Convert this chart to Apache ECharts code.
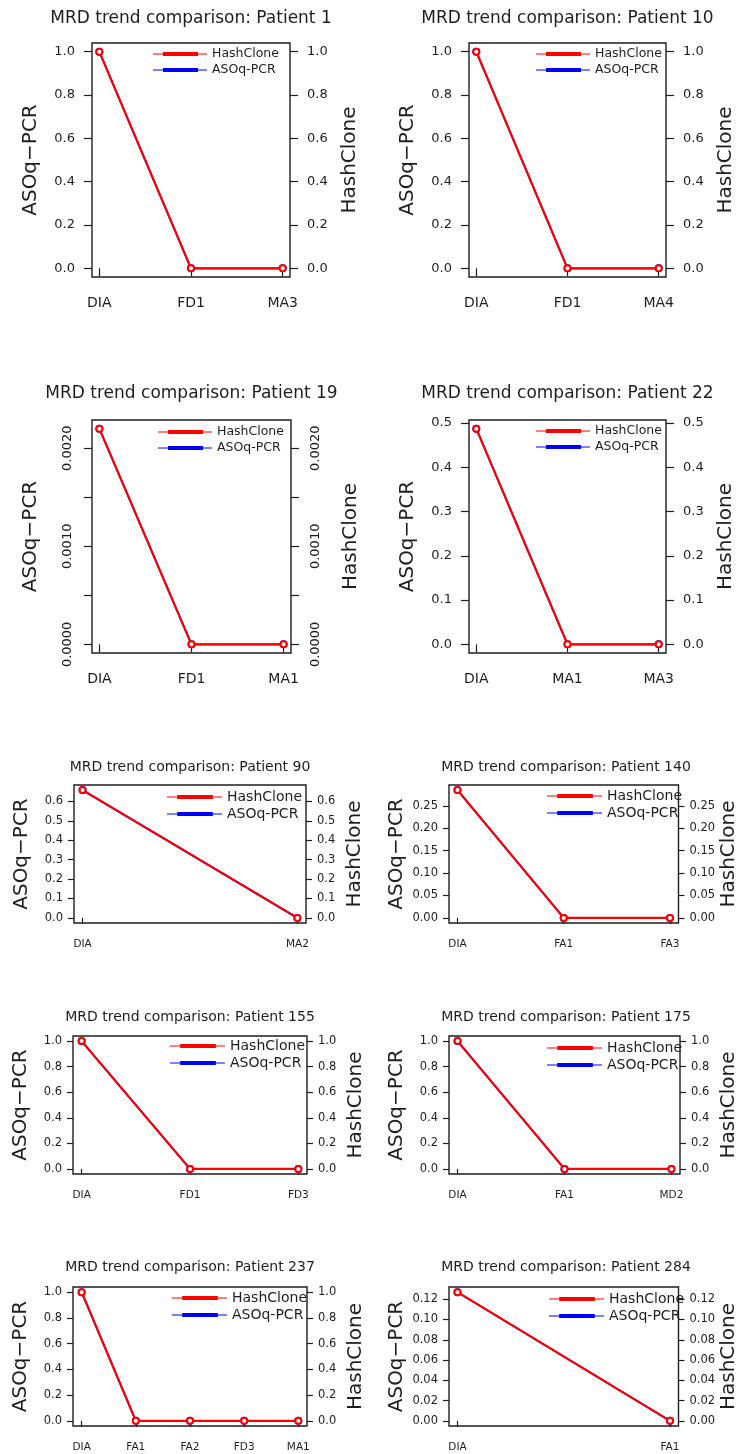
<!DOCTYPE html>
<html><head><meta charset="utf-8">
<script src="https://cdn.jsdelivr.net/npm/echarts@6/dist/echarts.min.js"></script>
<style>html,body{margin:0;padding:0;background:#fff}#c{width:740px;height:1454px}</style>
</head><body><div id="c"></div>
<script>
// ---------------- DATA ----------------
const patientIds = ['1', '10', '19', '22', '90', '140', '155', '175', '237', '284'];

const catP1 = ['DIA', 'FD1', 'MA3'];
const hashP1 = [1.0, 0, 0];
const asoP1 = [1.0, 0, 0];
const ticksP1 = [0, 0.2, 0.4, 0.6, 0.8, 1.0];

const catP10 = ['DIA', 'FD1', 'MA4'];
const hashP10 = [1.0, 0, 0];
const asoP10 = [1.0, 0, 0];
const ticksP10 = [0, 0.2, 0.4, 0.6, 0.8, 1.0];

const catP19 = ['DIA', 'FD1', 'MA1'];
const hashP19 = [0.0022, 0, 0];
const asoP19 = [0.0022, 0, 0];
const ticksP19 = [0, 0.0005, 0.0010, 0.0015, 0.0020];
const labelsP19 = [0, 0.0010, 0.0020];

const catP22 = ['DIA', 'MA1', 'MA3'];
const hashP22 = [0.487, 0, 0];
const asoP22 = [0.487, 0, 0];
const ticksP22 = [0, 0.1, 0.2, 0.3, 0.4, 0.5];

const catP90 = ['DIA', 'MA2'];
const hashP90 = [0.658, 0];
const asoP90 = [0.658, 0];
const ticksP90 = [0, 0.1, 0.2, 0.3, 0.4, 0.5, 0.6];

const catP140 = ['DIA', 'FA1', 'FA3'];
const hashP140 = [0.285, 0, 0];
const asoP140 = [0.285, 0, 0];
const ticksP140 = [0, 0.05, 0.10, 0.15, 0.20, 0.25];

const catP155 = ['DIA', 'FD1', 'FD3'];
const hashP155 = [1.0, 0, 0];
const asoP155 = [1.0, 0, 0];
const ticksP155 = [0, 0.2, 0.4, 0.6, 0.8, 1.0];

const catP175 = ['DIA', 'FA1', 'MD2'];
const hashP175 = [1.0, 0, 0];
const asoP175 = [1.0, 0, 0];
const ticksP175 = [0, 0.2, 0.4, 0.6, 0.8, 1.0];

const catP237 = ['DIA', 'FA1', 'FA2', 'FD3', 'MA1'];
const hashP237 = [1.0, 0, 0, 0, 0];
const asoP237 = [1.0, 0, 0, 0, 0];
const ticksP237 = [0, 0.2, 0.4, 0.6, 0.8, 1.0];

const catP284 = ['DIA', 'FA1'];
const hashP284 = [0.127, 0];
const asoP284 = [0.127, 0];
const ticksP284 = [0, 0.02, 0.04, 0.06, 0.08, 0.10, 0.12];

const seriesNames = ['HashClone', 'ASOq-PCR'];
const leftAxisTitle = 'ASOq\u2212PCR';
const rightAxisTitle = 'HashClone';
const titlePrefix = 'MRD trend comparison: Patient ';

// ---------------- LAYOUT ----------------
const FONT = '"DejaVu Sans", sans-serif';
const INK = '#1e1e1e';
const RED = '#ff0000';
const BLUE = '#0000ff';

const LARGE = {titleFont: 17, tickLen: 8, yFont: 13, yMargin: 17, xFont: 14, xMargin: 19,
  nameFont: 20, nameGapL: 51, nameGapR: 50, legFont: 12.5, legW: 54, legLH: 14, legGap: 2};
const SMALL = {titleFont: 14, tickLen: 6, yFont: 11.5, yMargin: 11, xFont: 10.5, xMargin: 16,
  nameFont: 20, nameGapL: 42, nameGapR: 39, legFont: 14, legW: 55, legLH: 15, legGap: 2};

const panels = [
  {cat: catP1, hash: hashP1, aso: asoP1, ticks: ticksP1, dec: 1, st: LARGE, x: 92, y: 43, w: 198, h: 234, ty: 17, lx: 153, ly: 54},
  {cat: catP10, hash: hashP10, aso: asoP10, ticks: ticksP10, dec: 1, st: LARGE, x: 469, y: 43, w: 197, h: 234, ty: 17, lx: 536, ly: 54},
  {cat: catP19, hash: hashP19, aso: asoP19, ticks: ticksP19, labels: labelsP19, dec: 4, rot: 90, st: LARGE, x: 92, y: 420, w: 199, h: 233, ty: 392, lx: 158, ly: 432},
  {cat: catP22, hash: hashP22, aso: asoP22, ticks: ticksP22, dec: 1, st: LARGE, x: 469, y: 420, w: 197, h: 233, ty: 392, lx: 536, ly: 431},
  {cat: catP90, hash: hashP90, aso: asoP90, ticks: ticksP90, dec: 1, st: SMALL, x: 74, y: 785, w: 232, h: 138, ty: 766, lx: 167, ly: 797},
  {cat: catP140, hash: hashP140, aso: asoP140, ticks: ticksP140, dec: 2, st: SMALL, x: 449, y: 785, w: 234, h: 138, ty: 766, lx: 547, ly: 796},
  {cat: catP155, hash: hashP155, aso: asoP155, ticks: ticksP155, dec: 1, st: SMALL, x: 73, y: 1036, w: 234, h: 138, ty: 1016, lx: 170, ly: 1046},
  {cat: catP175, hash: hashP175, aso: asoP175, ticks: ticksP175, dec: 1, st: SMALL, x: 449, y: 1036, w: 234, h: 138, ty: 1016, lx: 547, ly: 1048},
  {cat: catP237, hash: hashP237, aso: asoP237, ticks: ticksP237, dec: 1, st: SMALL, x: 73, y: 1287, w: 234, h: 139, ty: 1266, lx: 172, ly: 1298},
  {cat: catP284, hash: hashP284, aso: asoP284, ticks: ticksP284, dec: 2, st: SMALL, x: 449, y: 1287, w: 234, h: 139, ty: 1266, lx: 549, ly: 1299}
];

const legendIcon = 'path://M0,1.5H54V2.6H0Z M10,0H45V4H10Z';

const option = {
  animation: false,
  backgroundColor: '#ffffff',
  title: [], grid: [], xAxis: [], yAxis: [], series: [], legend: []
};

panels.forEach((p, k) => {
  const st = p.st;
  const n = p.cat.length;
  const all = p.hash.concat(p.aso);
  const dMin = Math.min.apply(null, all), dMax = Math.max.apply(null, all);
  const yr = dMax - dMin;
  const yMin = dMin - 0.04 * yr, yMax = dMax + 0.04 * yr;
  const xMin = 1 - 0.04 * (n - 1), xMax = n + 0.04 * (n - 1);
  const idx = p.cat.map((c, i) => i + 1);

  option.title.push({
    text: titlePrefix + patientIds[k],
    left: p.x + p.w / 2, top: p.ty - st.titleFont * 0.4, textAlign: 'center', padding: 0,
    textStyle: {fontFamily: FONT, fontSize: st.titleFont, fontWeight: 'normal', color: INK}
  });

  option.grid.push({left: p.x, top: p.y, width: p.w, height: p.h, show: true,
    borderColor: INK, borderWidth: 1.4, backgroundColor: 'transparent', containLabel: false});

  option.xAxis.push({
    type: 'value', gridIndex: k, min: xMin, max: xMax,
    axisLine: {show: false}, splitLine: {show: false},
    axisTick: {show: true, inside: false, length: st.tickLen, customValues: idx, lineStyle: {color: INK, width: 1.2}},
    axisLabel: {show: true, customValues: idx, margin: st.xMargin, fontFamily: FONT, fontSize: st.xFont, color: INK,
      formatter: v => p.cat[Math.round(v) - 1]}
  });

  const labVals = p.labels || p.ticks;
  const mkY = (pos, gap, name) => ({
    type: 'value', gridIndex: k, position: pos, min: yMin, max: yMax,
    name: name, nameLocation: 'middle', nameRotate: 90, nameGap: gap,
    nameTextStyle: {fontFamily: FONT, fontSize: st.nameFont, color: INK},
    axisLine: {show: false}, splitLine: {show: false},
    axisTick: {show: true, inside: false, length: st.tickLen, customValues: p.ticks, lineStyle: {color: INK, width: 1.2}},
    axisLabel: {show: true, customValues: labVals, margin: p.rot ? 18 : st.yMargin, rotate: p.rot || 0,
      fontFamily: FONT, fontSize: st.yFont, color: INK, formatter: v => Number(v).toFixed(p.dec)}
  });
  option.yAxis.push(mkY('left', st.nameGapL, leftAxisTitle));
  option.yAxis.push(mkY('right', st.nameGapR, rightAxisTitle));

  option.series.push({
    name: seriesNames[1], type: 'line', xAxisIndex: k, yAxisIndex: 2 * k,
    data: p.aso.map((v, i) => [i + 1, v]),
    symbol: 'emptyCircle', symbolSize: 6, itemStyle: {color: BLUE, borderWidth: 2},
    lineStyle: {color: BLUE, width: 1.8}, z: 2, silent: true
  });
  option.series.push({
    name: seriesNames[0], type: 'line', xAxisIndex: k, yAxisIndex: 2 * k + 1,
    data: p.hash.map((v, i) => [i + 1, v]),
    symbol: 'emptyCircle', symbolSize: 6, itemStyle: {color: RED, borderWidth: 2},
    lineStyle: {color: RED, width: 2.2}, z: 3, silent: true
  });

  option.legend.push({
    left: p.lx, top: p.ly - st.legLH / 2, orient: 'vertical', padding: 0,
    itemWidth: st.legW, itemHeight: 4, itemGap: st.legGap, symbolKeepAspect: false,
    icon: legendIcon, selectedMode: false,
    textStyle: {fontFamily: FONT, fontSize: st.legFont, color: INK, lineHeight: st.legLH},
    data: [{name: seriesNames[0], itemStyle: {color: RED}}, {name: seriesNames[1], itemStyle: {color: BLUE}}]
  });
});

const chart = echarts.init(document.getElementById('c'), null, {renderer: 'canvas', width: 740, height: 1454});
chart.setOption(option);
</script>
</body></html>
